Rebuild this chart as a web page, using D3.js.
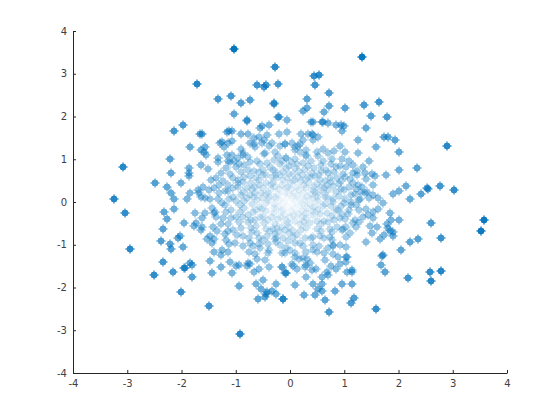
<!DOCTYPE html>
<html><head><meta charset="utf-8">
<script src="https://cdnjs.cloudflare.com/ajax/libs/d3/7.8.5/d3.min.js"></script>
<style>html,body{margin:0;background:#fff}text{font-family:"DejaVu Sans",sans-serif;font-size:10px;fill:#404040}</style>
</head><body><svg id="c" width="560" height="420"></svg>
<script>
const xTicks=[-4,-3,-2,-1,0,1,2,3,4];
const yTicks=[-4,-3,-2,-1,0,1,2,3,4];
const outerPoints=[[-1.03,3.57],[-0.28,3.15],[-1.71,2.75],[-0.61,2.73],[-0.44,2.73],[-0.48,2.68],[-0.22,2.75],[-1.09,2.49],[-1.33,2.40],[-0.90,2.31],[-0.74,2.38],[-0.29,2.31],[-0.30,2.29],[-1.03,2.07],[-0.80,1.92],[-0.79,1.90],[-0.22,1.98],[-0.20,2.00],[-0.06,1.91],[-1.97,1.81],[-2.14,1.67],[-1.66,1.60],[-1.62,1.60],[-1.16,1.63],[-1.12,1.67],[-1.07,1.67],[-0.90,1.60],[-0.77,1.60],[-0.55,1.74],[-0.52,1.77],[-0.39,1.79],[-0.42,1.56],[-0.20,1.58],[-0.06,1.63],[-1.84,1.28],[-2.21,1.00],[-3.08,0.81],[-2.49,0.44],[-2.01,0.44],[-2.27,0.34],[-2.19,0.20],[-2.14,0.06],[-1.90,0.06],[-1.84,0.20],[-3.24,0.06],[-2.19,0.67],[-1.86,0.79],[-1.86,0.69],[-1.86,0.60],
[1.33,3.40],[0.44,2.94],[0.53,2.98],[0.46,2.73],[0.72,2.54],[0.31,2.42],[0.31,2.21],[0.24,2.12],[0.72,2.24],[1.01,2.19],[0.63,2.10],[1.36,2.28],[1.64,2.35],[1.49,2.02],[1.79,2.00],[0.39,1.86],[0.42,1.86],[0.59,1.88],[0.61,1.88],[0.70,1.84],[0.85,1.79],[0.94,1.81],[1.00,1.77],[0.96,1.65],[1.40,1.72],[1.25,1.46],[1.73,1.53],[1.81,1.51],[1.94,1.44],[1.59,1.28],[2.01,1.16],[1.25,1.14],[2.89,1.30],[2.34,0.79],[2.01,0.74],[1.77,0.62],[2.14,0.37],[1.90,0.18],[2.01,0.25],[2.41,0.18],[2.52,0.32],[2.54,0.30],[2.76,0.37],[3.02,0.27],[2.21,0.06],
[-3.04,-0.26],[-2.95,-1.11],[-2.32,-0.24],[-2.14,-0.17],[-2.27,-0.40],[-1.95,-0.48],[-2.34,-0.64],[-2.03,-0.80],[-2.06,-0.85],[-2.38,-0.92],[-2.21,-0.99],[-2.19,-1.11],[-1.97,-1.06],[-2.34,-1.41],[-2.16,-1.64],[-2.51,-1.71],[-1.84,-1.43],[-1.81,-1.48],[-1.95,-1.55],[-1.94,-1.55],[-1.81,-1.76],[-2.01,-2.11],[-1.49,-2.44],[-0.92,-3.09],[-0.94,-1.97],[-0.63,-1.92],[-0.50,-1.83],[-0.53,-2.04],[-0.44,-2.16],[-0.42,-2.11],[-0.46,-2.23],[-0.33,-2.09],[-0.26,-2.16],[-0.26,-1.92],[-0.59,-2.27],[-0.13,-2.27],
[3.58,-0.43],[3.52,-0.69],[2.60,-0.50],[2.78,-0.85],[2.36,-0.87],[2.21,-0.94],[2.05,-1.13],[2.01,-0.43],[1.84,-0.26],[1.86,-0.43],[1.90,-0.71],[1.90,-0.80],[1.71,-1.25],[1.70,-1.26],[1.68,-1.48],[1.75,-1.64],[2.18,-1.78],[2.58,-1.64],[2.78,-1.62],[2.60,-1.85],[1.59,-2.51],[0.72,-2.58],[1.12,-2.37],[1.18,-2.25],[1.14,-1.92],[0.96,-1.92],[0.83,-2.09],[0.65,-2.30],[0.46,-2.18],[0.26,-2.18],[-0.13,-2.27],[0.09,-1.95],[0.42,-1.92],[0.59,-1.92],[0.59,-2.09],[0.52,-2.04]];
const midPoints=[[-1.25,1.41],[-1.29,1.37],[-1.14,1.37],[-1.07,1.42],[-0.66,1.49],[-0.57,1.51],[-0.74,1.39],[-0.52,1.37],[-0.48,1.46],[-0.66,1.35],[-0.33,1.37],[-0.65,1.28],[-0.39,1.30],[-1.57,1.28],[-1.22,1.28],[-0.18,1.32],[-0.09,1.35],[-1.64,1.21],[-1.59,1.16],[-1.55,1.09],[-0.90,1.23],[-0.87,1.14],[-0.46,1.14],[-0.48,1.12],[-1.33,1.04],[-1.33,0.93],[-1.16,1.09],[-1.07,1.11],[-0.96,1.04],[-0.87,1.09],[-1.14,0.97],[-1.11,0.93],[-1.03,0.95],[-0.94,0.90],[-0.61,0.97],[-0.74,0.93],[-0.22,1.07],[-0.07,1.04],[-1.64,0.86],[-1.51,0.77],[-1.18,0.79],[-1.00,0.81],[-0.85,0.86],[-0.78,0.74],[-0.74,0.60],[-1.28,0.67],[-0.19,0.88],[-0.31,0.74],[-0.50,0.76],[-1.46,0.51],[-1.36,0.55],[-1.23,0.48],[-1.05,0.55],[-0.96,0.51],[-0.96,0.44],[-1.60,0.34],[-1.70,0.27],[-1.68,0.20],[-1.64,0.12],[-1.49,0.27],[-1.40,0.32],[-1.30,0.20],[-1.20,0.25],[-1.14,0.25],[-1.05,0.32],[-0.80,0.32],[-0.72,0.44],[-0.62,0.55],[-0.50,0.63],[-0.53,0.20],[-0.31,0.44],[-0.19,0.63],[-0.90,0.16],[-0.74,0.16],[-1.05,0.12],[-1.57,0.09],
[0.20,1.58],[0.33,1.58],[0.41,1.58],[0.42,1.56],[0.52,1.51],[0.42,1.44],[0.24,1.44],[0.04,1.39],[-0.09,1.35],[0.18,1.35],[0.15,1.31],[0.09,1.29],[0.09,1.21],[0.18,1.18],[0.92,1.32],[0.82,1.20],[0.61,1.23],[0.49,1.18],[0.70,1.14],[1.01,1.18],[0.52,1.07],[0.29,1.09],[0.30,1.08],[0.77,1.00],[0.96,1.00],[1.09,0.97],[1.46,0.95],[-0.08,1.04],[0.10,1.00],[0.61,0.96],[0.76,0.90],[0.85,0.83],[1.03,0.83],[1.16,0.86],[1.35,0.83],[1.38,0.67],[1.51,0.65],[1.57,0.60],[1.40,0.53],[1.24,0.72],[1.24,0.62],[1.16,0.67],[0.98,0.65],[0.87,0.55],[1.01,0.58],[1.10,0.53],[0.67,0.75],[0.70,0.67],[0.53,0.63],[0.33,0.59],[0.39,0.58],[0.16,0.73],[0.10,0.51],[0.45,0.79],[0.55,0.51],[0.64,0.50],[1.53,0.39],[1.25,0.39],[1.33,0.34],[0.90,0.41],[0.79,0.37],[1.00,0.27],[1.42,0.23],[1.38,0.20],[1.22,0.30],[1.20,0.19],[1.12,0.16],[1.53,0.16],[1.62,0.09],[1.29,0.06],[1.46,0.09],[0.90,0.15],[0.64,0.12],[0.70,0.28],[0.42,0.28],[0.24,0.20],
[-1.75,-0.26],[-1.57,-0.26],[-1.62,-0.38],[-1.73,-0.50],[-1.77,-0.57],[-1.62,-0.59],[-1.64,-0.65],[-1.44,-0.15],[-1.40,-0.26],[-1.38,-0.24],[-1.36,-0.36],[-1.24,-0.38],[-1.20,-0.07],[-1.08,-0.19],[-1.08,-0.38],[-0.99,-0.34],[-0.84,-0.15],[-0.68,-0.23],[-0.56,-0.11],[-1.42,-0.59],[-1.35,-0.67],[-1.53,-0.87],[-1.47,-0.80],[-1.40,-0.87],[-1.44,-0.97],[-1.05,-0.66],[-1.14,-0.69],[-1.20,-0.76],[-1.13,-0.99],[-1.02,-0.97],[-0.87,-0.80],[-0.87,-1.04],[-0.74,-0.97],[-0.90,-0.61],[-0.58,-0.85],[-0.50,-0.89],[-0.31,-0.62],[-0.28,-0.76],[-0.25,-0.85],[-0.25,-0.93],[-0.28,-0.86],[-0.41,-1.20],[-0.44,-0.62],[-1.40,-1.18],[-1.27,-1.25],[-1.25,-1.13],[-1.14,-1.18],[-1.47,-1.39],[-1.11,-1.41],[-1.27,-1.53],[-1.44,-1.67],[-1.07,-1.67],[-1.00,-1.50],[-0.94,-1.48],[-0.76,-1.18],[-0.55,-1.08],[-0.39,-1.12],[-0.61,-1.34],[-0.46,-1.36],[-0.78,-1.43],[-0.74,-1.46],[-0.79,-1.50],[-0.66,-1.64],[-0.57,-1.57],[-0.39,-1.53],[-0.15,-1.53],[-0.09,-1.67],[-0.08,-1.65],
[1.79,-0.52],[1.81,-0.60],[1.84,-0.67],[1.73,-0.78],[1.66,-0.87],[1.60,-0.59],[1.47,-0.57],[1.51,-0.73],[1.40,-0.94],[1.71,-0.03],[1.53,-0.38],[1.62,-0.17],[1.53,-0.23],[1.41,-0.16],[1.44,-0.30],[1.35,-0.34],[1.28,0.05],[1.13,0.01],[1.13,-0.07],[1.22,-0.07],[1.07,-0.28],[1.19,-0.42],[1.28,-0.46],[1.21,-0.59],[0.85,-0.19],[0.88,-0.19],[0.82,-0.42],[0.93,-0.38],[0.95,-0.29],[0.29,-1.76],[0.59,-1.76],[0.68,-1.64],[0.70,-1.71],[-0.08,-1.67],[1.14,-1.60],[1.14,-1.64],[1.05,-1.64],[1.03,-1.41],[1.03,-1.28],[1.05,-1.29],[0.92,-1.46],[0.85,-1.57],[0.76,-1.50],[0.65,-1.36],[0.89,-1.29],[1.03,-1.06],[0.63,-1.20],[0.79,-1.22],[0.70,-1.08],[0.63,-0.85],[0.73,-0.81],[0.79,-1.02],[0.80,-1.00],[0.92,-1.00],[1.03,-0.81],[1.10,-0.73],[0.98,-0.62],[1.03,-0.58],[0.73,-0.62],[0.87,-0.59],[0.95,-0.65],[0.48,-1.57],[0.41,-1.60],[0.28,-1.53],[0.30,-1.47],[0.37,-1.43],[0.31,-1.34],[0.12,-1.57],[0.04,-1.46],[0.06,-1.49],[0.17,-1.34],[0.10,-1.20],[0.09,-1.28],[-0.15,-1.53],[-0.10,-1.20],[-0.14,-1.20],[-0.07,-1.08],[0.42,-1.00],[0.42,-1.12],[0.39,-0.85],[0.42,-0.81],[0.27,-0.85],[0.18,-0.95],[0.09,-0.97],[0.06,-0.81],[-0.13,-0.85],[0.50,-0.62],[0.30,-0.38],[0.36,-0.50],[0.30,-0.60]];
const innerPoints=[[-0.37,0.82],[-0.45,0.45],[-0.35,0.30],[-0.25,0.55],[-0.12,0.70],[-0.15,0.40],[-0.05,0.55],[-0.02,0.85],[0.05,0.65],[0.20,0.48],[0.12,0.35],[0.30,0.32],[0.02,0.30],[-0.10,0.22],[-0.22,0.18],[-0.38,0.12],[-0.60,0.05],[-0.45,-0.02],[-0.30,-0.05],[-0.18,0.05],[-0.05,0.10],[0.05,0.15],[0.16,0.08],[0.28,0.05],[0.42,0.10],[0.52,0.02],[0.60,-0.10],[0.45,-0.12],[0.32,-0.15],[0.18,-0.08],[0.06,-0.05],[-0.06,-0.10],[-0.16,-0.20],[-0.30,-0.25],[-0.44,-0.22],[-0.55,-0.35],[-0.40,-0.42],[-0.22,-0.40],[-0.10,-0.30],[0.02,-0.22],[0.14,-0.28],[0.22,-0.35],[0.42,-0.30],[0.55,-0.28],[0.62,-0.45],[0.10,-0.45],[-0.04,-0.50],[-0.15,-0.58],[-0.62,-0.55],[-0.72,-0.42],[-0.78,-0.30],[-0.85,0.02],[-0.65,0.22],[0.52,0.22],[0.62,0.32],[-0.60,-0.72],[-0.70,-0.70],[0.05,-0.68],[-0.02,-0.72],[0.20,-0.65],[0.55,-0.80],[-0.50,0.32],[-0.28,0.72],[0.00,0.45],[-0.58,0.40],[0.35,0.45],[0.50,0.42],[0.28,0.75],[0.10,0.80],[0.80,0.08],[0.75,-0.10],[0.68,-0.25]];
const densePoints=[[-0.42,0.92],[-0.55,0.88],[-0.66,0.72],[-0.33,0.58],[-0.44,0.62],[-0.58,0.52],[-0.84,0.58],[-0.90,0.70],[-1.10,0.66],[-1.15,0.40],[-0.86,0.24],[-0.64,0.36],[-0.40,0.22],[-0.28,0.36],[-0.20,0.30],[-0.12,0.52],[-0.08,0.80],[-0.30,0.98],[-0.14,0.95],[0.02,0.94],[0.12,0.90],[0.24,0.92],[0.38,0.96],[0.34,0.84],[0.22,0.62],[0.06,0.48],[0.16,0.28],[0.26,0.40],[0.44,0.36],[0.46,0.60],[0.58,0.72],[0.74,0.55],[0.82,0.70],[0.92,0.84],[0.58,0.86],[0.76,0.46],[0.58,0.36],[0.84,0.24],[0.62,0.20],[0.38,0.18],[0.08,0.22],[-0.04,0.36],[-0.30,0.12],[-0.52,0.10],[-0.70,-0.05],[-0.62,-0.18],[-0.92,-0.06],[-1.00,0.02],[-1.12,0.08],[-1.26,-0.02],[-1.32,0.08],[-1.18,-0.24],[-0.92,-0.24],[-0.78,-0.46],[-0.94,-0.46],[-1.14,-0.52],[-0.98,-0.78],[-0.72,-0.60],[-0.76,-0.84],[-0.68,-1.02],[-0.58,-0.98],[-0.42,-0.80],[-0.40,-0.98],[-0.36,-0.68],[-0.20,-0.70],[-0.18,-1.00],[-0.10,-0.66],[-0.04,-0.92],[0.00,-1.12],[0.24,-1.04],[0.30,-1.18],[0.50,-1.18],[0.54,-1.02],[0.58,-0.68],[0.50,-0.44],[0.70,-0.46],[0.78,-0.32],[0.64,-0.04],[0.80,0.00],[0.94,-0.10],[1.00,-0.02],[1.02,0.06],[0.94,0.30],[0.46,0.24],[0.22,-0.20],[0.10,-0.14],[0.00,-0.34],[-0.08,-0.44],[0.18,-0.52],[0.26,-0.46],[-0.28,-0.52],[-0.48,-0.50],[-0.34,-0.34],[-0.52,-0.16],[-0.22,-0.12],[-0.12,-0.02],[0.10,0.02],[0.24,-0.04],[0.36,-0.04],[0.42,-0.22],[0.52,-0.18],[-0.25,0.10],[-0.08,0.32],[0.06,0.06],[0.14,0.14],[-0.02,0.18],[0.32,0.12],[0.50,0.12],[0.70,0.10],[-0.16,-0.34],[-0.30,-0.14],[-0.45,0.18],[-0.66,0.12],[-0.80,0.10],[-0.95,0.36],[-0.35,0.42],[-0.26,0.62],[-0.02,0.66],[0.14,0.58],[0.28,0.52],[0.40,0.68],[0.68,0.40],[0.94,0.50],[1.08,0.36],[1.08,-0.18],[1.02,-0.40],[0.78,-0.70],[0.58,-0.52],[0.12,-0.78],[-0.02,-0.58],[-0.24,-0.60],[-0.50,-0.34],[-0.64,-0.42],[-0.86,-0.34],[-0.70,0.30],[-0.40,0.04],[-0.12,-0.18],[0.08,-0.30],[0.30,-0.25],[-0.58,0.70],[-0.86,0.46],[-1.30,0.40],[-1.48,0.08],[-1.28,-0.52],[-1.18,-0.88],[-0.64,-1.22],[0.24,-1.30],[0.78,-0.90],[1.16,-0.48],[1.28,-0.18],[1.30,0.24],[1.16,0.45],[0.30,1.22],[-0.28,1.18],[-0.78,1.06]];
const points=[...outerPoints,...midPoints,...innerPoints,...densePoints];
const margin={left:73,right:53,top:31,bottom:47};
const W=560,H=420;
const x=d3.scaleLinear().domain([-4,4]).range([margin.left,W-margin.right]);
const y=d3.scaleLinear().domain([-4,4]).range([H-margin.bottom,margin.top]);
const svg=d3.select("#c");
const maxR=3.8;
// star marker: 6px body with cut corners and 1.4px tips, a single outline so alpha stays even
const outline=[[-2,-3],[-.7,-3],[-.7,-4.5],[.7,-4.5],[.7,-3],[2,-3],[3,-2],[3,-.7],[4.5,-.7],[4.5,.7],[3,.7],[3,2],[2,3],[.7,3],[.7,4.5],[-.7,4.5],[-.7,3],[-2,3],[-3,2],[-3,.7],[-4.5,.7],[-4.5,-.7],[-3,-.7],[-3,-2]];
const marker={draw(c){outline.forEach((p,i)=>i?c.lineTo(p[0],p[1]):c.moveTo(p[0],p[1]));c.closePath();}};
const sym=d3.symbol().type(marker);
svg.append("g").selectAll("path").data(points).join("path")
  .attr("d",sym).attr("transform",d=>`translate(${Math.round(x(d[0]))},${Math.round(y(d[1]))})`)
  .attr("fill","#0072BD").attr("fill-opacity",d=>Math.min(1,Math.pow(Math.hypot(d[0],d[1])/maxR,0.95)));
const ax=svg.append("g").attr("transform",`translate(0,${y(-4)})`).call(d3.axisBottom(x).tickValues(xTicks).tickSizeInner(-3).tickSizeOuter(0).tickFormat(d3.format("d")));
const ay=svg.append("g").attr("transform",`translate(${x(-4)},0)`).call(d3.axisLeft(y).tickValues(yTicks).tickSizeInner(-3).tickSizeOuter(0).tickFormat(d3.format("d")));
[ax,ay].forEach(g=>{g.selectAll("path,line").attr("stroke","#262626");g.selectAll("text").style("font-size","10px").attr("fill","#404040").text(d=>String(d).replace("−","-"));});
ax.selectAll("text").attr("y",7).attr("dy","0.71em");
ay.selectAll("text").attr("x",-6);
</script></body></html>
